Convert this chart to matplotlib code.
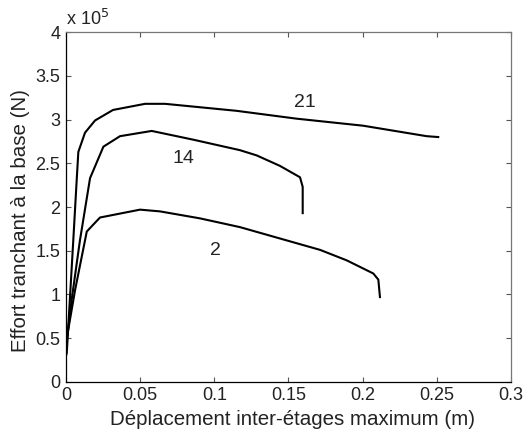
import numpy as np
import matplotlib
matplotlib.use('Agg')
from matplotlib import pyplot as plt
from matplotlib.ticker import FuncFormatter

# interstorey drift (m) and base shear (x 1e5 N)
x21 = [0.0, 0.0005, 0.0049, 0.0072, 0.0083, 0.0128, 0.0196, 0.0317, 0.0533,
       0.0668, 0.115, 0.1556, 0.2003, 0.2432, 0.251]
y21 = [0.3, 0.33, 1.62, 2.31, 2.63, 2.85, 2.99, 3.11, 3.18,
       3.18, 3.10, 3.01, 2.93, 2.81, 2.80]

x14 = [0.0, 0.0038, 0.0094, 0.0162, 0.0252, 0.0364, 0.0578, 0.0858, 0.1173,
       0.1286, 0.1443, 0.1578, 0.1596, 0.1596]
y14 = [0.4, 0.94, 1.62, 2.33, 2.69, 2.81, 2.87, 2.77, 2.65,
       2.59, 2.47, 2.34, 2.23, 1.93]

x2 = [0.0, 0.0061, 0.014, 0.0229, 0.0499, 0.0634, 0.0904, 0.1173, 0.1443,
      0.1713, 0.1893, 0.2072, 0.2106, 0.2117]
y2 = [0.45, 1.05, 1.72, 1.88, 1.97, 1.95, 1.87, 1.77, 1.64,
      1.51, 1.39, 1.24, 1.17, 0.97]

labels = ['21', '14', '2']
label_pos = [(0.161, 3.19), (0.079, 2.55), (0.1005, 1.5)]

plt.rcParams['font.family'] = ['Liberation Sans', 'DejaVu Sans']

fig = plt.figure(figsize=(5.24, 4.34), dpi=100)
ax = fig.add_axes([0.126, 0.12, 0.849, 0.806])

for xs, ys in [(x21, y21), (x14, y14), (x2, y2)]:
    ax.plot(xs, ys, color='black', lw=1.5)

for lab, (lx, ly) in zip(labels, label_pos):
    ax.text(lx, ly, lab, ha='center', va='center', fontsize=14, color='#222222')

ax.set_xlim(0, 0.3)
ax.set_ylim(0, 4)
ax.set_xticks(np.arange(0, 0.31, 0.05))
ax.set_yticks(np.arange(0, 4.01, 0.5))
fmt = FuncFormatter(lambda v, p: '%g' % round(v, 3))
ax.xaxis.set_major_formatter(fmt)
ax.yaxis.set_major_formatter(fmt)
ax.tick_params(direction='in', top=True, right=True, length=3.6, width=0.8,
               color='#555555', labelsize=13, labelcolor='#222222', pad=4)
ax.spines['left'].set_color('black')
ax.spines['bottom'].set_color('black')
ax.spines['top'].set_color('#777777')
ax.spines['right'].set_color('#777777')
for s in ax.spines.values():
    s.set_linewidth(0.9)

ax.set_xlabel('Déplacement inter-étages maximum (m)', fontsize=14.8,
              color='#222222')
ax.set_ylabel('Effort tranchant à la base (N)', fontsize=14.8,
              color='#222222')
ax.xaxis.set_label_coords(0.51, -0.08)
ax.yaxis.set_label_coords(-0.081, 0.46)
ax.text(0.0, 1.008, r'x 10$^5$', transform=ax.transAxes, fontsize=13,
        ha='left', va='bottom', color='#222222')

fig.savefig('out.png', dpi=100)
